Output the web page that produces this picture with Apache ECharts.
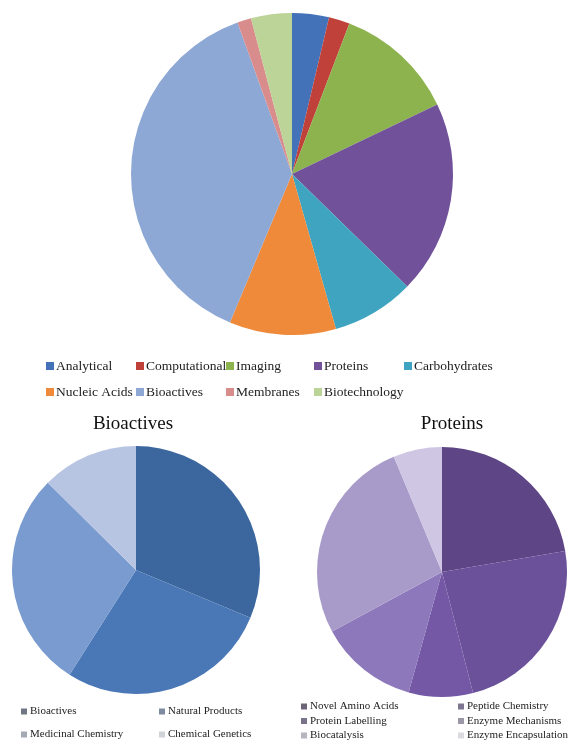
<!DOCTYPE html>
<html><head><meta charset="utf-8">
<script src="https://cdn.jsdelivr.net/npm/echarts@6/dist/echarts.min.js"></script>
<style>html,body{margin:0;padding:0;background:#fff}#c{width:575px;height:742px}</style>
</head><body><div id="c"></div>
<script>
// Main pie
const mainCats = ['Analytical','Computational','Imaging','Proteins','Carbohydrates','Nucleic Acids','Bioactives','Membranes','Biotechnology'];
const mainVals = [3.7, 2.1, 12.1, 19.4, 8.3, 10.7, 38.2, 1.4, 4.1];
const mainColors = ['#4372B8','#C0403A','#8DB34E','#70519A','#3FA4BF','#EE8A3A','#8DA8D5','#D98C8C','#BCD497'];

// Bioactives breakdown
const bioCats = ['Bioactives','Natural Products','Medicinal Chemistry','Chemical Genetics'];
const bioVals = [31.3, 27.7, 28.4, 12.6];
const bioColors = ['#3B679E','#4A78B6','#7A9BCF','#B8C5E2'];
const bioLegendColors = ['#6f7684','#7d8aa0','#a4aab4','#d0d3d8'];

// Proteins breakdown
const protCats = ['Novel Amino Acids','Peptide Chemistry','Protein Labelling','Enzyme Mechanisms','Biocatalysis','Enzyme Encapsulation'];
const protVals = [22.3, 23.7, 8.3, 12.8, 26.6, 6.3];
const protColors = ['#5E4585','#6A519A','#7458A6','#8C78BA','#A99BC9','#CFC6E3'];
const protLegendColors = ['#6c6578','#7e7690','#7a7288','#9c97a6','#b9b5c0','#dcdae0'];

const serif = 'Liberation Serif';
const chart = echarts.init(document.getElementById('c'), null, {renderer:'canvas'});

function mk(cats, vals, colors){
  return cats.map((n,i)=>({name:n, value:vals[i], itemStyle:{color:colors[i]}}));
}

const legends = [];
// top legend: 5 columns x 2 rows
const topCols = [47, 137, 227, 315, 405];
mainCats.forEach((n,i)=>{
  const r = Math.floor(i/5), c = i%5;
  legends.push({
    data:[{name:n, itemStyle:{color:mainColors[i]}}],
    left: topCols[c]-1, top: 359 + r*26,
    itemWidth:8, itemHeight:8, itemGap:0, icon:'rect', selectedMode:false,
    padding:0,
    textStyle:{fontFamily:serif, fontSize:13.5, color:'#222', padding:[0,0,0,-3]}
  });
});
// bioactives legend 2x2
const bioCols = [21, 159];
bioCats.forEach((n,i)=>{
  const r = Math.floor(i/2), c = i%2;
  legends.push({
    data:[{name:n, itemStyle:{color:bioLegendColors[i]}}],
    left: bioCols[c], top: 706 + r*23,
    itemWidth:6, itemHeight:6, itemGap:0, icon:'rect', selectedMode:false,
    padding:0,
    textStyle:{fontFamily:serif, fontSize:11, color:'#222', padding:[0,0,0,-2]}
  });
});
// proteins legend 2 cols x 3 rows
const protCols = [301, 458];
protCats.forEach((n,i)=>{
  const r = Math.floor(i/2), c = i%2;
  legends.push({
    data:[{name:n, itemStyle:{color:protLegendColors[i]}}],
    left: protCols[c], top: 701 + r*14.5,
    itemWidth:6, itemHeight:6, itemGap:0, icon:'rect', selectedMode:false,
    padding:0,
    textStyle:{fontFamily:serif, fontSize:11, color:'#222', padding:[0,0,0,-2]}
  });
});

const pieCommon = {
  type:'pie', startAngle:90, clockwise:true, avoidLabelOverlap:false,
  label:{show:false}, labelLine:{show:false}, silent:true, animation:false,
  itemStyle:{borderWidth:0}
};

chart.setOption({
  animation:false,
  title:[
    {text:'Bioactives', left:128, top:410, textAlign:'center', textStyle:{fontFamily:serif, fontSize:19, fontWeight:'normal', color:'#111'}},
    {text:'Proteins', left:447, top:410, textAlign:'center', textStyle:{fontFamily:serif, fontSize:19, fontWeight:'normal', color:'#111'}}
  ],
  legend: legends,
  series:[
    Object.assign({}, pieCommon, {name:'main', center:[292,174], radius:[0,161], data:mk(mainCats, mainVals, mainColors)}),
    Object.assign({}, pieCommon, {name:'bio', center:[136,570], radius:[0,124], data:mk(bioCats, bioVals, bioColors)}),
    Object.assign({}, pieCommon, {name:'prot', center:[442,572], radius:[0,125], data:mk(protCats, protVals, protColors)})
  ]
});
</script></body></html>
